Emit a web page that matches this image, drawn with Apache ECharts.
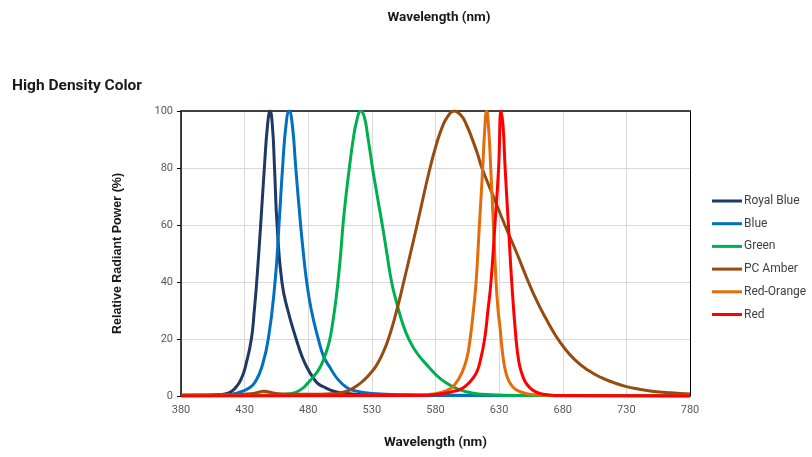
<!DOCTYPE html>
<html>
<head>
<meta charset="utf-8">
<script src="https://cdn.jsdelivr.net/npm/echarts@6/dist/echarts.min.js"></script>
<style>
  html, body { margin: 0; padding: 0; background: #ffffff; }
  #chart { width: 812px; height: 457px; }
</style>
</head>
<body>
<div id="chart"></div>
<script>
// Relative spectral power of High Density Color LEDs: wavelength (nm) and power (%)
const seriesNames = ['Royal Blue', 'Blue', 'Green', 'PC Amber', 'Red-Orange', 'Red'];
const seriesColors = ['#1f3864', '#0070c0', '#00b050', '#974c0f', '#e46c0a', '#ff0000'];

const royalBlueNm  = [380, 400, 410, 417, 423, 427.7, 431, 435.3, 437.6, 439.5, 442.6, 445.5, 448, 450, 451.8, 453.5, 455.5, 459.3, 464, 470.5, 475, 479, 484, 488, 493, 500, 509, 520, 560, 780];
const royalBlueVal = [0.3, 0.3, 0.5, 1, 3, 6.4, 11, 20, 30, 40, 60, 80, 95, 100, 95, 80, 60, 40, 30, 20, 14, 10, 6.3, 4.2, 3, 1.7, 1, 0.5, 0.3, 0.1];

const blueNm  = [380, 415, 425, 434.2, 439, 443.4, 448.6, 453.9, 457, 459.8, 462.5, 465, 467.5, 470.2, 474, 476.2, 478.8, 482.5, 487.9, 492, 497.1, 503, 510.2, 516.8, 530, 560, 600, 780];
const blueVal = [0.1, 0.3, 1.2, 3, 5.5, 10, 20, 40, 60, 80, 95, 100, 95, 80, 60, 50, 40, 30, 20, 14, 10, 6, 3, 1.8, 0.9, 0.4, 0.2, 0.1];

const greenNm  = [380, 440, 460, 469.6, 475, 480, 484.5, 489.2, 493, 496.5, 499.3, 501.8, 503.8, 505.5, 507.3, 509.6, 512.3, 515.3, 518.3, 521.2, 524, 526.8, 530.5, 534.3, 538.2, 541.8, 545.5, 549.3, 554.5, 559, 565.5, 574.5, 584, 594, 604, 617, 640, 780];
const greenVal = [0.3, 0.3, 0.6, 1.2, 2.5, 4.7, 7, 10, 14, 19, 26, 34, 42, 50, 60, 70, 80, 90, 97, 100, 98, 91, 80, 70, 60, 50, 40, 33, 25, 20, 15, 10.3, 6, 3.2, 1.5, 0.6, 0.2, 0];

const pcAmberNm  = [380, 420, 435, 441, 444.7, 449, 455, 465, 485, 498, 505, 512, 518, 523.5, 528.5, 533, 537.5, 543, 549.5, 555, 560.3, 565.5, 570.5, 575.7, 580.5, 585, 589.5, 594.5, 600, 604.5, 609, 613, 616.5, 625.5, 634.5, 644, 653, 660, 667, 674, 681, 690, 700, 710, 720, 730, 740, 750, 765, 780];
const pcAmberVal = [0.3, 0.5, 0.8, 1.3, 1.7, 1.4, 0.9, 0.6, 0.6, 0.8, 1.1, 2, 3.5, 5.5, 7.8, 10.3, 14, 20, 30, 40, 50, 60, 70, 80, 88, 94, 98, 100, 98.5, 95, 90, 85, 80, 70, 60, 50, 40, 33, 27, 21.5, 17, 12.5, 9, 6.5, 4.7, 3.3, 2.4, 1.7, 1.1, 0.7];

const redOrangeNm  = [380, 560, 575.7, 583.5, 591.4, 596, 600.6, 604.5, 607.2, 609.8, 611.9, 614.5, 617.1, 618.9, 620.2, 621.6, 623.4, 625.5, 627.6, 629.2, 630.7, 633, 635.4, 638, 641.2, 645, 651.7, 660, 680, 780];
const redOrangeVal = [0, 0.2, 0.6, 1.2, 2.5, 4.5, 8, 13, 20, 30, 40, 60, 80, 95, 100, 95, 80, 60, 40, 30, 24, 14, 8, 5, 3, 1.8, 0.8, 0.4, 0.1, 0];

const redNm  = [380, 570, 580, 586, 593, 600.3, 606, 612, 615.5, 618.6, 621.2, 623.6, 626.7, 629.6, 631.5, 633.2, 634.7, 637.3, 639.9, 643.3, 645.5, 647.8, 650.5, 654, 658, 664.5, 675, 780];
const redVal = [0, 0.2, 0.5, 0.9, 1.5, 2.5, 4.5, 8, 13, 20, 30, 40, 60, 80, 100, 94, 80, 60, 40, 20, 12, 8, 5, 3, 1.6, 0.6, 0.2, 0];

const seriesNm  = [royalBlueNm, blueNm, greenNm, pcAmberNm, redOrangeNm, redNm];
const seriesVal = [royalBlueVal, blueVal, greenVal, pcAmberVal, redOrangeVal, redVal];

const xTicks = { min: 380, max: 780, interval: 50 };
const yTicks = { min: 0, max: 100, interval: 20 };

const tickColor = '#595959';
const gridColor = '#d9d9d9';

const chart = echarts.init(document.getElementById('chart'), null, { renderer: 'canvas' });

const series = seriesNames.map((name, i) => ({
  name: name,
  type: 'line',
  xAxisIndex: 0,
  yAxisIndex: 0,
  data: seriesNm[i].map((nm, k) => [nm, seriesVal[i][k]]),
  smooth: 0.5,
  showSymbol: false,
  symbol: 'none',
  clip: true,
  lineStyle: { color: seriesColors[i], width: 3, join: 'round' },
  itemStyle: { color: seriesColors[i] },
  z: 2 + i
}));

chart.setOption({
  animation: false,
  backgroundColor: '#ffffff',
  textStyle: { fontFamily: 'Roboto, "Liberation Sans", Arial, sans-serif' },
  title: [
    {
      text: 'Wavelength (nm)',
      left: 434, top: 6, textAlign: 'center',
      textStyle: { fontSize: 13.5, fontWeight: 'bold', color: '#1a1a1a', fontFamily: 'Roboto, sans-serif' }
    },
    {
      text: 'High Density Color',
      left: 7, top: 73,
      textStyle: { fontSize: 15.5, fontWeight: 'bold', color: '#1a1a1a', fontFamily: 'Roboto, sans-serif' }
    }
  ],
  legend: {
    orient: 'vertical',
    left: 707,
    top: 189,
    icon: 'rect',
    itemWidth: 30,
    itemHeight: 3,
    itemGap: 8.7,
    data: seriesNames,
    textStyle: {
      fontSize: 12,
      color: '#404040',
      lineHeight: 14,
      padding: [0, 0, 0, -3],
      fontFamily: 'Roboto, sans-serif'
    }
  },
  grid: { left: 181, right: 122, top: 111, bottom: 61, containLabel: false },
  xAxis: [
    {
      type: 'value',
      min: xTicks.min, max: xTicks.max, interval: xTicks.interval,
      name: 'Wavelength (nm)',
      nameLocation: 'middle',
      nameGap: 40,
      nameTextStyle: { fontSize: 13.5, fontWeight: 'bold', color: '#1a1a1a', fontFamily: 'Roboto, sans-serif' },
      axisLine: { show: true, onZero: false, lineStyle: { color: '#000000', width: 1.5 } },
      axisTick: { show: false },
      axisLabel: { color: tickColor, fontSize: 11, margin: 9 },
      splitLine: { show: true, lineStyle: { color: gridColor, width: 1 } }
    },
    {
      type: 'value',
      position: 'top',
      min: xTicks.min, max: xTicks.max, interval: xTicks.interval,
      axisLine: { show: true, onZero: false, lineStyle: { color: '#404040', width: 2 } },
      axisTick: { show: false },
      axisLabel: { show: false },
      splitLine: { show: false }
    }
  ],
  yAxis: [
    {
      type: 'value',
      min: yTicks.min, max: yTicks.max, interval: yTicks.interval,
      name: 'Relative Radiant Power (%)',
      nameLocation: 'middle',
      nameGap: 57,
      nameRotate: 90,
      nameTextStyle: { fontSize: 12.5, fontWeight: 'bold', color: '#1a1a1a', fontFamily: '"Liberation Sans", Arial, sans-serif' },
      axisLine: { show: true, onZero: false, lineStyle: { color: '#000000', width: 1.5 } },
      axisTick: { show: true, length: 4, lineStyle: { color: '#000000' } },
      axisLabel: { color: tickColor, fontSize: 11, margin: 8 },
      splitLine: { show: true, lineStyle: { color: gridColor, width: 1 } }
    },
    {
      type: 'value',
      position: 'right',
      min: yTicks.min, max: yTicks.max, interval: yTicks.interval,
      axisLine: { show: true, onZero: false, lineStyle: { color: '#000000', width: 1 } },
      axisTick: { show: false },
      axisLabel: { show: false },
      splitLine: { show: false }
    }
  ],
  series: series
});
</script>
</body>
</html>
